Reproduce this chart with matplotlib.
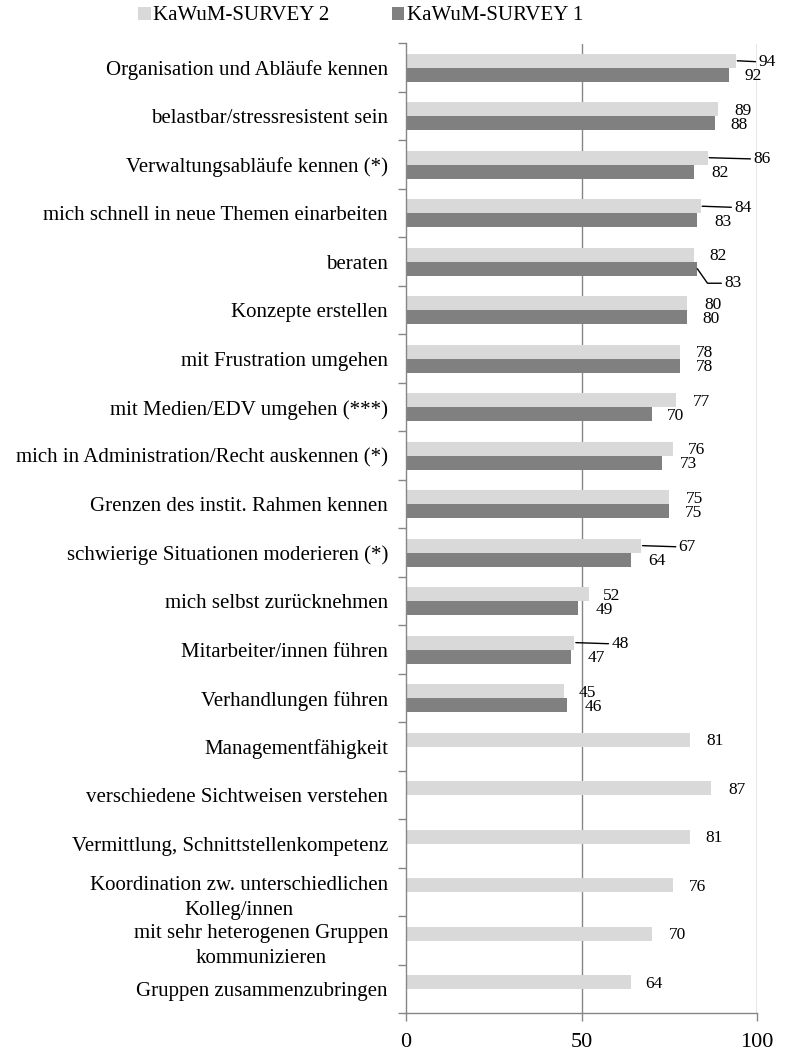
import matplotlib
matplotlib.use("Agg")
import matplotlib.pyplot as plt
from matplotlib.patches import Patch
import numpy as np

plt.rcParams['font.family'] = ['Liberation Serif', 'DejaVu Serif']

categories = [
    "Organisation und Abläufe kennen",
    "belastbar/stressresistent sein",
    "Verwaltungsabläufe kennen (*)",
    "mich schnell in neue Themen einarbeiten",
    "beraten",
    "Konzepte erstellen",
    "mit Frustration umgehen",
    "mit Medien/EDV umgehen (***)",
    "mich in Administration/Recht auskennen (*)",
    "Grenzen des instit. Rahmen kennen",
    "schwierige Situationen moderieren (*)",
    "mich selbst zurücknehmen",
    "Mitarbeiter/innen führen",
    "Verhandlungen führen",
    "Managementfähigkeit",
    "verschiedene Sichtweisen verstehen",
    "Vermittlung, Schnittstellenkompetenz",
    "Koordination zw. unterschiedlichen\nKolleg/innen",
    "mit sehr heterogenen Gruppen\nkommunizieren",
    "Gruppen zusammenzubringen",
]
survey2 = [94, 89, 86, 84, 82, 80, 78, 77, 76, 75, 67, 52, 48, 45, 81, 87, 81, 76, 70, 64]
survey1 = [92, 88, 82, 83, 83, 80, 78, 70, 73, 75, 64, 49, 47, 46, None, None, None, None, None, None]
series_names = ["KaWuM-SURVEY 2", "KaWuM-SURVEY 1"]
x_ticks = [0, 50, 100]

# label layout (pixel offsets from bar end / bar centre)
lab2_dx = [31, 25, 54, 42, 24, 26, 25, 25, 24, 25, 46, 23.5, 45.5, 23, 25, 25.6, 23.7, 25.2, 26, 23.4]
lab2_leader = [True, False, True, True, False, False, False, False, False, False, True, False, True,
               False, False, False, False, False, False, False]
lab1_dx = [24, 24, 26, 25.7, 35.4, 24, 25, 24.3, 26, 24, 26, 26, 25.7, 25.5]
lab1_dy = [0, 0, 0, 0, -13, 0, 0, 0, 0, 0, 0, 0, 0, 0]

c_light = '#d9d9d9'
c_dark = '#808080'
c_axis = '#868686'

fig = plt.figure(figsize=(7.86, 10.52), dpi=100)
ax = fig.add_axes([406/786, 1 - 1013.3/1052, (757-406)/786, (1013.3-43.5)/1052])

n = len(categories)
y = np.arange(n)
h = 0.29
off = 0.145

ax.barh(y - off, survey2, height=h, color=c_light, zorder=2)
idx1 = [i for i, v in enumerate(survey1) if v is not None]
ax.barh(np.array(idx1) + off, [survey1[i] for i in idx1], height=h, color=c_dark, zorder=2)

fs_val = 12.5
for i, v in enumerate(survey2):
    kw = {}
    if lab2_leader[i]:
        kw['arrowprops'] = dict(arrowstyle='-', color='black', lw=1.0, shrinkA=0, shrinkB=1)
    ax.annotate(str(v), xy=(v, i - off), xytext=(lab2_dx[i], -1.5), textcoords='offset pixels',
                ha='center', va='center', fontsize=fs_val, zorder=5, annotation_clip=False, **kw)
for i in idx1:
    v = survey1[i]
    kw = {}
    if lab1_dy[i] != 0:
        kw['arrowprops'] = dict(arrowstyle='-', color='black', lw=1.0, shrinkA=0, shrinkB=0,
                                connectionstyle='angle,angleA=180,angleB=-55,rad=0')
    ax.annotate(str(v), xy=(v, i + off), xytext=(lab1_dx[i], -1.5 + lab1_dy[i]), textcoords='offset pixels',
                ha='center', va='center', fontsize=fs_val, zorder=5, annotation_clip=False, **kw)

ax.set_xlim(0, 100)
ax.set_ylim(n - 0.5, -0.5)
ax.set_xticks(x_ticks)
ax.set_xticklabels([str(t) for t in x_ticks], fontsize=16)
ax.set_yticks(np.arange(n + 1) - 0.5)
ax.set_yticklabels([])
ax.set_yticks(y, minor=True)
ax.set_yticklabels(categories, minor=True, fontsize=15, multialignment='center', linespacing=1.45)
ax.tick_params(axis='y', which='minor', length=0, pad=13)
ax.tick_params(axis='y', which='major', length=6, width=1, color=c_axis, direction='out')
ax.tick_params(axis='x', length=6, width=1, color=c_axis, direction='out', pad=8)

for x in [50, 100]:
    ax.axvline(x, color=c_axis, lw=1.0, zorder=1)
for s in ['top', 'right']:
    ax.spines[s].set_visible(False)
for s in ['left', 'bottom']:
    ax.spines[s].set_color(c_axis)
    ax.spines[s].set_linewidth(1.0)

handles = [Patch(facecolor=c_light, edgecolor='none'), Patch(facecolor=c_dark, edgecolor='none')]
fig.legend(handles, series_names, loc='center', bbox_to_anchor=(360.5/786, 1 - 16/1052), ncol=2,
           frameon=False, fontsize=15, handlelength=0.6, handleheight=0.6, handletextpad=0.12,
           columnspacing=3.0, borderpad=0)

fig.savefig('out.png', dpi=100)
